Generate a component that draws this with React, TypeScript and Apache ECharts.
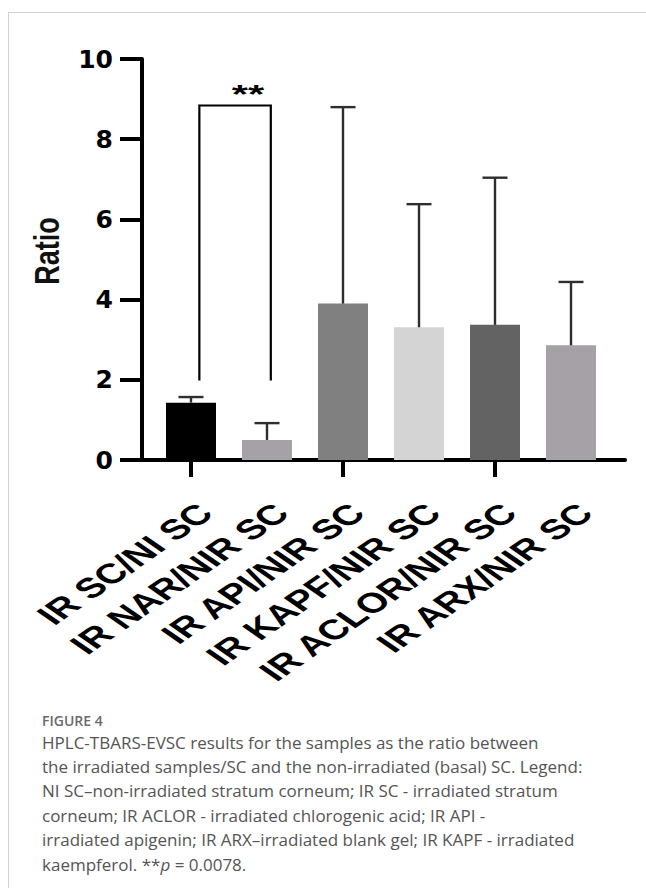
import React, { useEffect, useRef } from 'react';
import * as echarts from 'echarts';

// ---------- data ----------
const categories = [
  'IR SC/NI SC',
  'IR NAR/NIR SC',
  'IR API/NIR SC',
  'IR KAPF/NIR SC',
  'IR ACLOR/NIR SC',
  'IR ARX/NIR SC',
];
const means = [1.43, 0.5, 3.9, 3.31, 3.37, 2.86];
const errorTops = [1.57, 0.92, 8.8, 6.38, 7.04, 4.44];
const barColors = ['#000000', '#a5a1a6', '#808080', '#d4d4d4', '#636363', '#a5a1a6'];
const yMin = 0;
const yMax = 10;
const yInterval = 2;
const yName = 'Ratio';
// significance bracket: [from category, to category, top value, bottom value]
const sigPairs = [[0, 1, 8.84, 1.98]];
const sigLabels = ['**'];

const captionTitle = 'FIGURE 4';
const captionLines = [
  'HPLC-TBARS-EVSC results for the samples as the ratio between',
  'the irradiated samples/SC and the non-irradiated (basal) SC. Legend:',
  'NI SC\u2013non-irradiated stratum corneum; IR SC - irradiated stratum',
  'corneum; IR ACLOR - irradiated chlorogenic acid; IR API -',
  'irradiated apigenin; IR ARX\u2013irradiated blank gel; IR KAPF - irradiated',
  'kaempferol. **{i|p} = 0.0078.',
];

const W = 646;
const H = 892;
const STRETCH = 1.45; // the figure is horizontally stretched
const LABEL_FONT = '"Liberation Sans", Arial, sans-serif';

export default function App() {
  const ref = useRef<HTMLDivElement>(null);

  useEffect(() => {
    if (!ref.current) return;
    const chart = echarts.init(ref.current, undefined, { renderer: 'svg', width: W, height: H });

    const captionGraphics: any[] = captionLines.map((t, i) => ({
      type: 'text',
      x: 42,
      y: 742 + i * 24.4,
      style: {
        text: t,
        fontFamily: '"Open Sans", "Noto Sans", sans-serif',
        fontSize: 17,
        fontWeight: 'normal',
        fill: '#555555',
        align: 'left',
        verticalAlign: 'middle',
        rich: { i: { fontStyle: 'italic', fontSize: 17, fontFamily: '"Open Sans", "Noto Sans", sans-serif', fill: '#555555' } },
      },
    }));

    const option: any = {
      animation: false,
      backgroundColor: '#ffffff',
      grid: [
        { left: 142, top: 59, width: 483, height: 401, containLabel: false },
        { left: 153, top: 59, width: 456, height: 401, containLabel: false },
      ],
      xAxis: [
        {
          type: 'value',
          gridIndex: 0,
          min: 0,
          max: 1,
          axisLine: { show: true, lineStyle: { color: '#000', width: 4 } },
          axisTick: { show: false },
          axisLabel: { show: false },
          splitLine: { show: false },
        },
        {
          type: 'category',
          gridIndex: 1,
          data: categories,
          boundaryGap: true,
          axisLine: { show: false },
          axisTick: { show: true, alignWithLabel: true, length: 17, lineStyle: { color: '#000', width: 4 } },
          axisLabel: { show: false },
          splitLine: { show: false },
        },
      ],
      yAxis: [
        {
          type: 'value',
          gridIndex: 0,
          min: yMin,
          max: yMax,
          interval: yInterval,
          axisLine: { show: true, lineStyle: { color: '#000', width: 4 } },
          axisTick: { show: true, length: 22, lineStyle: { color: '#000', width: 4 } },
          axisLabel: {
            margin: 29,
            color: '#000',
            fontFamily: '"DejaVu Sans", sans-serif',
            fontWeight: 'bold',
            fontSize: 25,
          },
          splitLine: { show: false },
        },
        {
          type: 'value',
          gridIndex: 1,
          min: yMin,
          max: yMax,
          interval: yInterval,
          show: false,
        },
      ],
      series: [
        {
          type: 'bar',
          xAxisIndex: 1,
          yAxisIndex: 1,
          barWidth: 50,
          data: means.map((v, i) => ({ value: v, itemStyle: { color: barColors[i] } })),
          z: 2,
        },
        {
          type: 'custom',
          xAxisIndex: 1,
          yAxisIndex: 1,
          z: 3,
          data: means.map((m, i) => [i, m, errorTops[i]]),
          renderItem: (params: any, api: any) => {
            const i = api.value(0);
            const base = api.coord([i, api.value(1)]);
            const top = api.coord([i, api.value(2)]);
            const half = 12.5;
            const st = { stroke: '#2e2e2e', lineWidth: 2.4 };
            return {
              type: 'group',
              children: [
                { type: 'line', shape: { x1: base[0], y1: base[1], x2: top[0], y2: top[1] }, style: st },
                { type: 'line', shape: { x1: top[0] - half, y1: top[1], x2: top[0] + half, y2: top[1] }, style: st },
              ],
            };
          },
        },
        {
          type: 'custom',
          xAxisIndex: 1,
          yAxisIndex: 1,
          z: 4,
          data: sigPairs,
          renderItem: (params: any, api: any) => {
            const a = api.coord([api.value(0), api.value(2)]);
            const b = api.coord([api.value(1), api.value(3)]);
            const band = api.size([1, 0])[0];
            const lx = a[0] + 0.11 * band;
            const rx = b[0] + 0.05 * band;
            const yt = a[1];
            const yb = b[1];
            return {
              type: 'group',
              children: [
                {
                  type: 'polyline',
                  shape: { points: [[lx, yb], [lx, yt], [rx, yt], [rx, yb]] },
                  style: { stroke: '#000', lineWidth: 2.2, fill: null },
                },
                {
                  type: 'group',
                  x: a[0] + 0.75 * band,
                  y: yt - 12,
                  scaleX: 1.6,
                  children: [
                    {
                      type: 'text',
                      style: {
                        text: sigLabels[params.dataIndex],
                        x: 0,
                        y: 0,
                        align: 'center',
                        verticalAlign: 'middle',
                        fontFamily: LABEL_FONT,
                        fontWeight: 'bold',
                        fontSize: 26,
                        fill: '#000',
                      },
                    },
                  ],
                },
              ],
            };
          },
        },
        {
          // category labels: rotated 45° then stretched horizontally like the figure
          type: 'custom',
          xAxisIndex: 1,
          yAxisIndex: 1,
          z: 5,
          clip: false,
          silent: true,
          data: categories.map((c, i) => [i, yMin]),
          renderItem: (params: any, api: any) => {
            const p = api.coord([api.value(0), api.value(1)]);
            return {
              type: 'group',
              x: p[0] + 14,
              y: p[1] + 48,
              scaleX: STRETCH,
              children: [
                {
                  type: 'text',
                  rotation: Math.PI / 4,
                  style: {
                    text: categories[params.dataIndex],
                    x: 0,
                    y: 0,
                    align: 'right',
                    verticalAlign: 'middle',
                    fontFamily: LABEL_FONT,
                    fontWeight: 'bold',
                    fontSize: 28,
                    fill: '#000',
                  },
                },
              ],
            };
          },
        },
      ],
      graphic: [
        { type: 'line', shape: { x1: 8, y1: 12.5, x2: W, y2: 12.5 }, style: { stroke: '#d2d2d2', lineWidth: 1 } },
        { type: 'line', shape: { x1: 8.5, y1: 12, x2: 8.5, y2: 888 }, style: { stroke: '#d2d2d2', lineWidth: 1 } },
        {
          type: 'group',
          x: 47,
          y: 251,
          scaleX: 1.3,
          children: [
            {
              type: 'text',
              rotation: Math.PI / 2,
              style: {
                text: yName,
                x: 0,
                y: 0,
                align: 'center',
                verticalAlign: 'middle',
                fontFamily: LABEL_FONT,
                fontWeight: 'bold',
                fontSize: 27,
                fill: '#111',
              },
            },
          ],
        },
        {
          type: 'text',
          x: 42,
          y: 720,
          style: {
            text: captionTitle,
            fontFamily: '"Open Sans", "Noto Sans", sans-serif',
            fontSize: 14,
            fontWeight: 600,
            fill: '#6a6a6a',
            align: 'left',
            verticalAlign: 'middle',
          },
        },
        ...captionGraphics,
      ],
    };

    chart.setOption(option);
    return () => {
      chart.dispose();
    };
  }, []);

  return (
    <div
      ref={ref}
      style={{ position: 'absolute', left: 0, top: 0, width: W, height: H, background: '#fff' }}
    />
  );
}
